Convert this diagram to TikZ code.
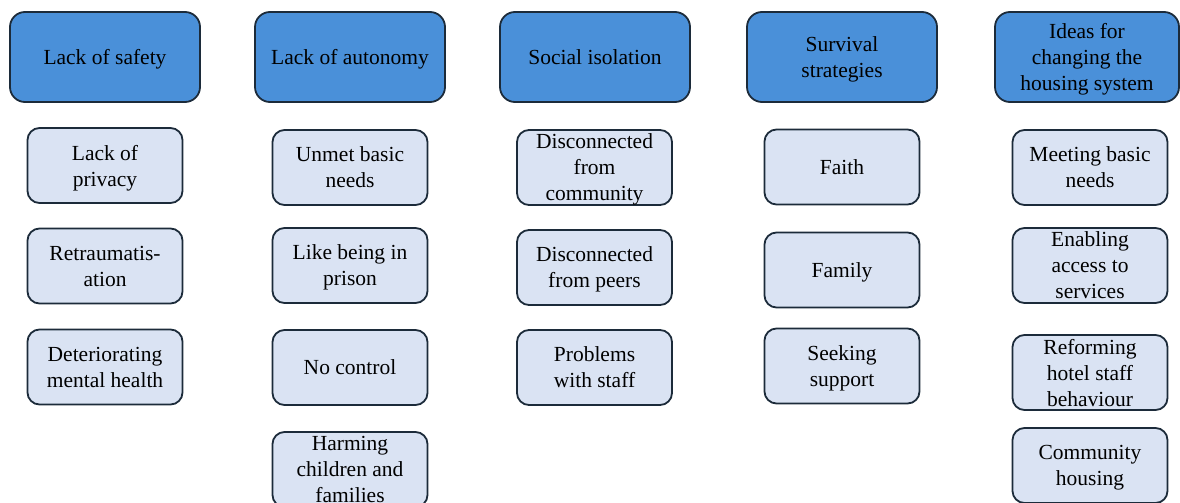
\documentclass[tikz,border=0pt]{standalone}
\usepackage{fontspec}
\setmainfont{Liberation Serif}
\definecolor{headblue}{HTML}{4A90D9}
\definecolor{itemblue}{HTML}{DAE3F3}
\definecolor{edgenavy}{HTML}{1C2B3A}

\begin{document}
\begin{tikzpicture}[x=1pt,y=-1pt,
  theme/.style={rectangle,rounded corners=15pt,draw=edgenavy,line width=1.8pt,
    fill=headblue,minimum width=190pt,minimum height=90pt,inner sep=0pt,
    text depth=-2.5pt,align=center,font=\fontsize{21.5}{26}\selectfont},
  sub/.style={rectangle,rounded corners=12pt,draw=edgenavy,line width=1.8pt,
    fill=itemblue,minimum width=155pt,minimum height=75pt,inner sep=0pt,
    text depth=-2.5pt,align=center,font=\fontsize{21.5}{26}\selectfont}]
\clip (0,0) rectangle (1180,503);
% themes
\node[theme](safety) at (105,57) {Lack of safety};
\node[theme](autonomy) at (350,57) {Lack of autonomy};
\node[theme](isolation) at (595,57) {Social isolation};
\node[theme](survival) at (842,57) {Survival\\strategies};
\node[theme,minimum width=184pt](ideas) at (1087,57) {Ideas for\\changing the\\housing system};
% lack of safety
\node[sub](privacy) at (105,165.5) {Lack of\\privacy};
\node[sub](retrauma) at (105,266) {Retraumatis-\\ation};
\node[sub](mental) at (105,367) {Deteriorating\\mental health};
% lack of autonomy
\node[sub](unmet) at (350,167.5) {Unmet basic\\needs};
\node[sub](prison) at (350,265.5) {Like being in\\prison};
\node[sub](control) at (350,367.5) {No control};
\node[sub](harming) at (350,469.5) {Harming\\children and\\families};
% social isolation
\node[sub](community) at (594.5,167.5) {Disconnected\\from\\community};
\node[sub](peers) at (594.5,267.5) {Disconnected\\from peers};
\node[sub](staff) at (594.5,367.5) {Problems\\with staff};
% survival strategies
\node[sub](faith) at (842,167) {Faith};
\node[sub](family) at (842,270) {Family};
\node[sub](support) at (842,366) {Seeking\\support};
% ideas
\node[sub](meeting) at (1090,167.5) {Meeting basic\\needs};
\node[sub](access) at (1090,265.5) {Enabling\\access to\\services};
\node[sub](reform) at (1090,372.5) {Reforming\\hotel staff\\behaviour};
\node[sub](housing) at (1090,465.5) {Community\\housing};
\end{tikzpicture}
\end{document}
